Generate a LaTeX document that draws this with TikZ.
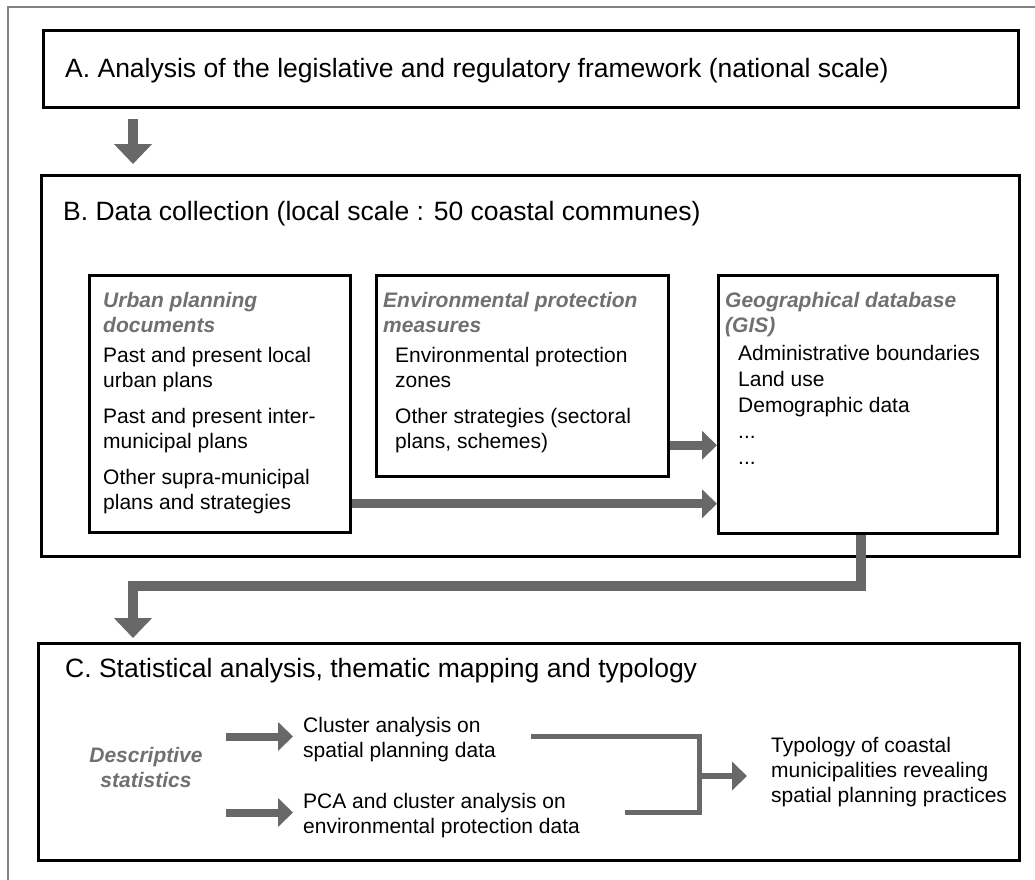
\documentclass[tikz,border=0pt]{standalone}
\usepackage{fontspec}
\setmainfont{Liberation Sans}
\usetikzlibrary{arrows.meta}
\definecolor{flowGray}{RGB}{104,104,104}
\definecolor{headGray}{RGB}{112,112,112}
\definecolor{frameGray}{RGB}{130,130,130}
\newcommand{\boxtitlefont}{\fontsize{26.5}{30}\selectfont}
\newcommand{\boxbodyfont}{\fontsize{21}{25}\selectfont}
\tikzset{
  panel/.style={rectangle, draw=black, line width=2.5pt, anchor=north west},
  txt/.style={inner sep=0pt, align=left, anchor=north west, font=\boxbodyfont},
  head/.style={txt, font=\boxbodyfont\bfseries\itshape, text=headGray},
  bigflow/.style={draw=flowGray, line width=10pt, -{Triangle[length=20pt,width=37pt]}},
  midflow/.style={draw=flowGray, line width=9pt, -{Triangle[length=15pt,width=28pt]}},
  smallflow/.style={draw=flowGray, line width=8pt, -{Triangle[length=15pt,width=28pt]}},
  joinline/.style={draw=flowGray, line width=5pt},
}

\begin{document}
\begin{tikzpicture}[x=1pt, y=-1pt]
    \useasboundingbox (0,0) rectangle (1035,879);
    % outer frame
    \draw[frameGray, line width=2.5pt] (8,900) -- (8,7) -- (1050,7);

    % A. legislative framework
    \node[panel, minimum width=975pt, minimum height=77pt] (boxA) at (42,29) {};
    \node[inner sep=0pt, anchor=base west, font=\boxtitlefont] (titleA) at (65,77) {A. Analysis of the legislative and regulatory framework (national scale)};

    % B. data collection
    \node[panel, minimum width=978pt, minimum height=381pt] (boxB) at (40,174) {};
    \node[inner sep=0pt, anchor=base west, font=\boxtitlefont] (titleB) at (63,220) {B. Data collection (local scale : 50 coastal communes)};

    \node[panel, minimum width=261pt, minimum height=257pt] (urban) at (88,274) {};
    \node[head] (urbanHead) at (103,292) {Urban planning\\documents};
    \node[txt] (urbanList) at (103,347) {Past and present local\\urban plans\\[11pt]Past and present inter-\\municipal plans\\[11pt]Other supra-municipal\\plans and strategies};

    \node[panel, minimum width=292pt, minimum height=201pt] (env) at (375,274) {};
    \node[head] (envHead) at (383,292) {Environmental protection\\measures};
    \node[txt] (envList) at (395,347) {Environmental protection\\zones\\[11pt]Other strategies (sectoral\\plans, schemes)};

    \node[panel, minimum width=279pt, minimum height=258pt] (gis) at (717,274) {};
    \node[head] (gisHead) at (725,292) {Geographical database\\(GIS)};
    \node[txt, font=\fontsize{21}{26}\selectfont] (gisList) at (738,345) {Administrative boundaries\\Land use\\Demographic data\\...\\...};

    % C. analysis
    \node[panel, minimum width=981pt, minimum height=217pt] (boxC) at (37,642) {};
    \node[inner sep=0pt, anchor=base west, font=\boxtitlefont] (titleC) at (65,677) {C. Statistical analysis, thematic mapping and typology};

    \node[head, align=center, anchor=north] (desc) at (146,747) {Descriptive\\statistics};
    \node[txt] (clu) at (303,717) {Cluster analysis on\\spatial planning data};
    \node[txt] (pca) at (303,793) {PCA and cluster analysis on\\environmental protection data};
    \node[txt] (typo) at (771,737) {Typology of coastal\\municipalities revealing\\spatial planning practices};

    \coordinate (lane) at (133,586);
    \coordinate (cluEnd) at (531,736);
    \coordinate (pcaEnd) at (625,812);
    \coordinate (joint) at (699,776);

    % flows
    \draw[bigflow, shorten <=10pt, shorten >=10pt] (boxA.south -| lane) -- (boxB.north -| lane);
    \draw[midflow] ([yshift=-69.5pt]env.east) -- ([yshift=-69.5pt]env.east -| gis.west);
    \draw[midflow] ([yshift=-100pt]urban.east) -- ([yshift=-100pt]urban.east -| gis.west);
    \draw[bigflow, shorten >=4pt] ([xshift=3.5pt]gis.south) |- (lane) -- (lane |- boxC.north);

    \draw[smallflow, shorten <=23pt, shorten >=10pt] ([yshift=3pt]desc.east |- clu.west) -- ([yshift=3pt]clu.west);
    \draw[smallflow, shorten <=23pt, shorten >=10pt] ([yshift=3pt]desc.east |- pca.west) -- ([yshift=3pt]pca.west);
    \draw[joinline] (cluEnd) -| (joint) |- (pcaEnd);
    \draw[smallflow, line width=6pt, shorten >=24pt] (joint) -- (joint -| typo.west);
\end{tikzpicture}
\end{document}
